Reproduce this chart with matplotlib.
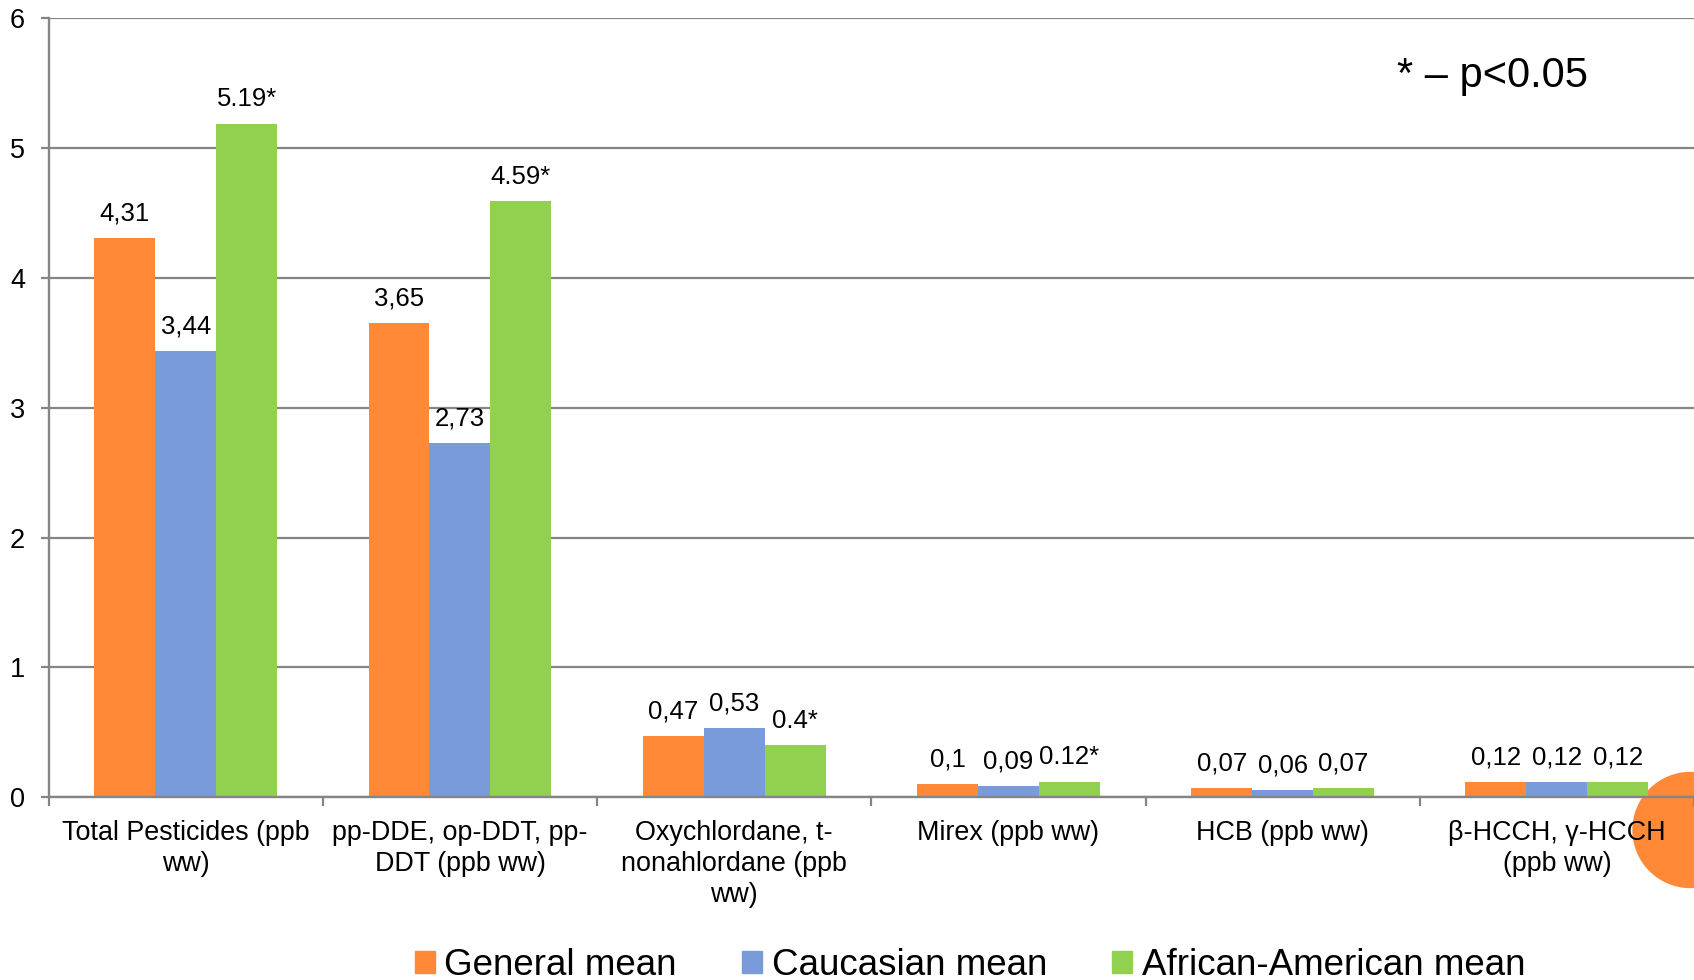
import matplotlib
matplotlib.use("Agg")
import matplotlib.pyplot as plt
from matplotlib.patches import Patch, Ellipse
import numpy as np

plt.rcParams['font.family'] = ['Liberation Sans', 'DejaVu Sans']

# Pesticide concentrations by group
categories = [
    "Total Pesticides (ppb\nww)",
    "pp-DDE, op-DDT, pp-\nDDT (ppb ww)",
    "Oxychlordane, t-\nnonahlordane (ppb\nww)",
    "Mirex (ppb ww)",
    "HCB (ppb ww)",
    "β-HCCH, γ-HCCH\n(ppb ww)",
]
series_names = ["General mean", "Caucasian mean", "African-American mean"]
general_mean = [4.31, 3.65, 0.47, 0.10, 0.07, 0.12]
caucasian_mean = [3.44, 2.73, 0.53, 0.09, 0.06, 0.12]
african_american_mean = [5.19, 4.59, 0.40, 0.12, 0.07, 0.12]
general_labels = ["4,31", "3,65", "0,47", "0,1", "0,07", "0,12"]
caucasian_labels = ["3,44", "2,73", "0,53", "0,09", "0,06", "0,12"]
african_american_labels = ["5.19*", "4.59*", "0.4*", "0.12*", "0,07", "0,12"]
y_ticks = [0, 1, 2, 3, 4, 5, 6]

ORANGE = '#FF8936'
BLUE = '#7A9BD9'
GREEN = '#92D14F'
GRAY = '#858585'

W, H = 1694, 980
fig = plt.figure(figsize=(W / 100, H / 100), dpi=100)
ax_left, ax_bottom, ax_top = 48.6, 797.3, 18.4
ax = fig.add_axes([ax_left / W, 1 - ax_bottom / H, 1 - ax_left / W, (ax_bottom - ax_top) / H])
ax.set_facecolor('none')

x = np.arange(len(categories))
bw = 1 / 4.5
series = [
    (general_mean, general_labels, ORANGE),
    (caucasian_mean, caucasian_labels, BLUE),
    (african_american_mean, african_american_labels, GREEN),
]
for k, (vals, labs, col) in enumerate(series):
    bars = ax.bar(x + (k - 1) * bw, vals, bw, color=col, label=series_names[k], zorder=2)
    for b, lab in zip(bars, labs):
        ax.annotate(lab, (b.get_x() + b.get_width() / 2, b.get_height()),
                    xytext=(0, 9), textcoords='offset points',
                    ha='center', va='bottom', fontsize=18.5, color='black')

ax.set_xlim(-0.5, len(categories) - 0.5)
ax.set_ylim(0, 6)
ax.set_yticks(y_ticks)
ax.set_yticklabels([str(t) for t in y_ticks])
ax.yaxis.grid(True, color=GRAY, lw=1.6)
ax.set_axisbelow(True)

for s in ['top', 'right']:
    ax.spines[s].set_visible(False)
for s in ['left', 'bottom']:
    ax.spines[s].set_color(GRAY)
    ax.spines[s].set_linewidth(1.7)

ax.tick_params(axis='y', length=6, width=1.6, color=GRAY, pad=11, labelsize=19.5)
ax.set_xticks(np.arange(-0.5, len(categories)), labels=[''] * (len(categories) + 1))
ax.set_xticks(x, labels=categories, minor=True)
ax.tick_params(axis='x', which='major', length=6.5, width=1.6, color=GRAY, direction='out')
ax.tick_params(axis='x', which='minor', length=0, pad=16.5, labelsize=19.4)
for lbl in ax.get_xticklabels(minor=True):
    lbl.set_linespacing(1.25)

# decorative dot in the lower right corner
fig.add_artist(Ellipse((1690.5 / W, 1 - 830 / H), 115 / W, 115 / H,
                       transform=fig.transFigure, color=ORANGE, zorder=-1))

fig.text(1397 / W, 1 - 75.5 / H, "* – p<0.05", fontsize=30, va='center', ha='left')

handles = [Patch(color=c) for c in (ORANGE, BLUE, GREEN)]
fig.legend(handles, series_names, loc='center', bbox_to_anchor=(970 / W, 1 - 965.5 / H),
           ncol=3, frameon=False, fontsize=26.5, handlelength=0.53, handleheight=0.53,
           handletextpad=0.27, columnspacing=1.77, borderpad=0, borderaxespad=0)

fig.savefig('out.png', dpi=100)
